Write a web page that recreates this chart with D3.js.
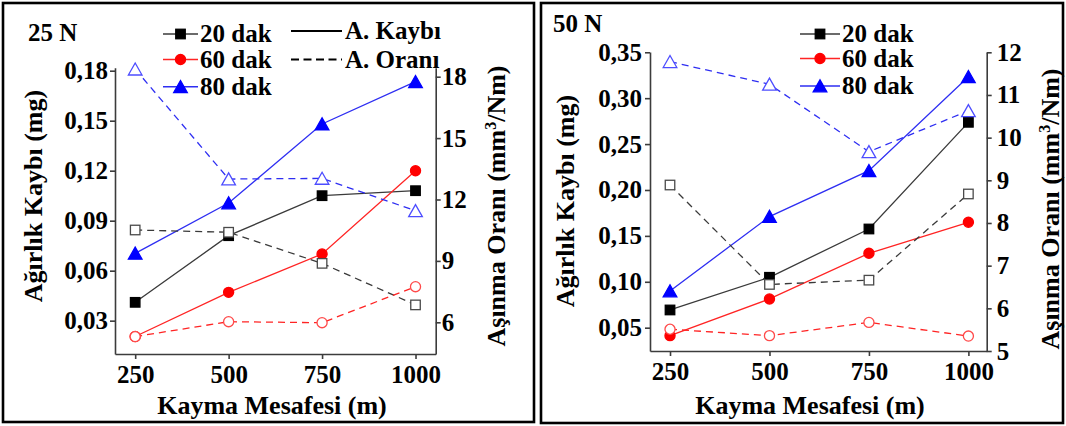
<!DOCTYPE html>
<html><head><meta charset="utf-8">
<script src="https://cdn.jsdelivr.net/npm/d3@7"></script>
<style>
body{margin:0;background:#fff}
svg{display:block}
</style>
</head><body>
<svg id="c" width="1066" height="426"></svg>
<script>
// ---------- data ----------
const distances = [250, 500, 750, 1000];
const seriesNames = ["20 dak", "60 dak", "80 dak"];
const typeNames = ["A. Kaybı", "A. Oranı"];

// 25 N : weight loss (mg) and wear rate (mm3/Nm)
const loss25_20 = [0.041, 0.081, 0.105, 0.108];
const loss25_60 = [0.0205, 0.047, 0.070, 0.120];
const loss25_80 = [0.0704, 0.1006, 0.148, 0.1734];
const rate25_20 = [10.51, 10.40, 8.88, 6.85];
const rate25_60 = [5.30, 6.03, 5.98, 7.74];
const rate25_80 = [18.37, 13.0, 13.03, 11.45];

// 50 N
const loss50_20 = [0.0693, 0.1049, 0.1575, 0.2737];
const loss50_60 = [0.0413, 0.0813, 0.131, 0.1648];
const loss50_80 = [0.090, 0.171, 0.221, 0.3234];
const rate50_20 = [8.89, 6.56, 6.66, 8.68];
const rate50_60 = [5.51, 5.36, 5.67, 5.35];
const rate50_80 = [11.78, 11.25, 9.67, 10.63];

// tick values
const lossTicks25 = [0.03, 0.06, 0.09, 0.12, 0.15, 0.18];
const rateTicks25 = [6, 9, 12, 15, 18];
const lossTicks50 = [0.05, 0.10, 0.15, 0.20, 0.25, 0.30, 0.35];
const rateTicks50 = [5, 6, 7, 8, 9, 10, 11, 12];

// ---------- styles ----------
const seriesStyle = [
  {marker: "square",   fill: "#000000", line: "#3a3a3a", open: "#4a4a4a"},
  {marker: "circle",   fill: "#ff0000", line: "#ff2424", open: "#ff4a4a"},
  {marker: "triangle", fill: "#0000ff", line: "#2e2ef2", open: "#4d4dff"}
];
const FONT = 25;
const FAMILY = "Liberation Serif";

const svg = d3.select("#c");

function txt(sel, size) {
  return sel.style("font-family", FAMILY).style("font-weight", "bold")
    .style("font-size", size + "px").attr("fill", "#000");
}

function markerPath(s) {
  const w = s * 0.62, h = s * 0.56;
  return `M0,${-h}L${w},${h * 0.95}L${-w},${h * 0.95}Z`;
}

function drawMarker(g, type, cx, cy, fill, stroke, size) {
  if (type === "square") {
    g.append("rect").attr("x", cx - size / 2).attr("y", cy - size / 2)
      .attr("width", size).attr("height", size)
      .attr("fill", fill).attr("stroke", stroke).attr("stroke-width", 1.3);
  } else if (type === "circle") {
    g.append("circle").attr("cx", cx).attr("cy", cy).attr("r", size / 2 + 0.3)
      .attr("fill", fill).attr("stroke", stroke).attr("stroke-width", 1.3);
  } else {
    g.append("path").attr("transform", `translate(${cx},${cy})`)
      .attr("d", markerPath(size + 1.5))
      .attr("fill", fill).attr("stroke", stroke).attr("stroke-width", 1.3);
  }
}

function styleAxis(a) {
  a.attr("font-family", null).attr("font-size", null);
  a.select(".domain").attr("stroke", "#3c3c3c").attr("stroke-width", 1.6);
  a.selectAll(".tick line").attr("stroke", "#3c3c3c").attr("stroke-width", 1.6);
  txt(a.selectAll(".tick text"), FONT);
}

function panel(cfg) {
  const g = svg.append("g");
  g.append("rect").attr("x", cfg.frame[0]).attr("y", cfg.frame[1])
    .attr("width", cfg.frame[2]).attr("height", cfg.frame[3])
    .attr("fill", "none").attr("stroke", "#000").attr("stroke-width", 2.6);

  const x = d3.scaleLinear().domain(cfg.xDomain).range(cfg.xRange);
  const yL = d3.scaleLinear().domain(cfg.lossDomain).range(cfg.yRange);
  const yR = d3.scaleLinear().domain(cfg.rateDomain).range(cfg.yRangeR);

  const fmtLoss = d => d3.format(".2f")(d).replace(".", ",");

  const ax = g.append("g").attr("transform", `translate(0,${cfg.yRange[0]})`)
    .call(d3.axisBottom(x).tickValues(distances).tickFormat(d3.format("d"))
      .tickSize(5).tickSizeOuter(0).tickPadding(6));
  styleAxis(ax);
  const al = g.append("g").attr("transform", `translate(${cfg.xRange[0]},0)`)
    .call(d3.axisLeft(yL).tickValues(cfg.lossTicks).tickFormat(fmtLoss)
      .tickSize(5).tickSizeOuter(0).tickPadding(cfg.padL));
  styleAxis(al);
  const ar = g.append("g").attr("transform", `translate(${cfg.xRange[1]},0)`)
    .call(d3.axisRight(yR).tickValues(cfg.rateTicks).tickFormat(d3.format("d"))
      .tickSize(5).tickSizeOuter(0).tickPadding(cfg.padR));
  styleAxis(ar);

  const lineL = d3.line().x((d, i) => x(distances[i])).y(d => yL(d));
  const lineR = d3.line().x((d, i) => x(distances[i])).y(d => yR(d));

  cfg.loss.forEach((vals, k) => {
    const st = seriesStyle[k];
    g.append("path").attr("d", lineL(vals)).attr("fill", "none")
      .attr("stroke", st.line).attr("stroke-width", 1.3);
  });
  cfg.loss.forEach((vals, k) => {
    const st = seriesStyle[k];
    vals.forEach((v, i) => drawMarker(g, st.marker, x(distances[i]), yL(v), st.fill, st.fill, 9.5));
  });
  cfg.rate.forEach((vals, k) => {
    const st = seriesStyle[k];
    g.append("path").attr("d", lineR(vals)).attr("fill", "none")
      .attr("stroke", st.line).attr("stroke-width", 1.3).attr("stroke-dasharray", "7,5");
  });
  cfg.rate.forEach((vals, k) => {
    const st = seriesStyle[k];
    vals.forEach((v, i) => drawMarker(g, st.marker, x(distances[i]), yR(v), "#fff", st.open, 9.5));
  });

  txt(g.append("text").attr("x", cfg.label[0]).attr("y", cfg.label[1]), FONT).text(cfg.labelText);
  txt(g.append("text").attr("x", cfg.xTitle[0]).attr("y", cfg.xTitle[1])
    .attr("text-anchor", "middle"), 26).text("Kayma Mesafesi (m)");
  txt(g.append("text").attr("transform", `translate(${cfg.yTitleL[0]},${cfg.yTitleL[1]}) rotate(-90)`)
    .attr("text-anchor", "middle"), 26).text("Ağırlık Kaybı (mg)");
  const tr = txt(g.append("text").attr("transform", `translate(${cfg.yTitleR[0]},${cfg.yTitleR[1]}) rotate(-90)`)
    .attr("text-anchor", "middle"), 26);
  tr.append("tspan").text("Aşınma Oranı (mm");
  tr.append("tspan").attr("dy", -9).style("font-size", "16px").text("3");
  tr.append("tspan").attr("dy", 9).text("/Nm)");

  seriesNames.forEach((name, k) => {
    const st = seriesStyle[k];
    const ly = cfg.legY[k];
    g.append("line").attr("x1", cfg.legX[0]).attr("x2", cfg.legX[1]).attr("y1", ly).attr("y2", ly)
      .attr("stroke", st.line).attr("stroke-width", 1.5);
    drawMarker(g, st.marker, (cfg.legX[0] + cfg.legX[1]) / 2, ly, st.fill, st.fill, 9.5);
    txt(g.append("text").attr("x", cfg.legX[1] + 2).attr("y", ly + 8), FONT).text(name);
  });
  if (cfg.typeLegend) {
    typeNames.forEach((name, k) => {
      const ly = cfg.typeY[k];
      g.append("line").attr("x1", cfg.typeX[0]).attr("x2", cfg.typeX[1]).attr("y1", ly).attr("y2", ly)
        .attr("stroke", "#000").attr("stroke-width", 1.8)
        .attr("stroke-dasharray", k === 1 ? "8,4.5" : null);
      txt(g.append("text").attr("x", cfg.typeX[1] + 3).attr("y", ly + 8), FONT).text(name);
    });
  }
}

panel({
  frame: [3, 3, 531, 419],
  xDomain: [196, 1054], xRange: [115, 435.7],
  lossDomain: [0.0100, 0.1818], yRange: [354, 67.7],
  rateDomain: [4.451, 18.44], yRangeR: [354, 67.7],
  lossTicks: lossTicks25, rateTicks: rateTicks25,
  padL: 2, padR: 1,
  loss: [loss25_20, loss25_60, loss25_80],
  rate: [rate25_20, rate25_60, rate25_80],
  label: [28, 41], labelText: "25 N",
  xTitle: [272, 414], yTitleL: [42, 196], yTitleR: [505, 206],
  legX: [163, 198], legY: [34, 59.5, 86.7],
  typeLegend: true, typeX: [291, 342], typeY: [31, 59.5]
});

panel({
  frame: [541, 3, 522, 420],
  xDomain: [199.7, 1046], xRange: [650, 986.7],
  lossDomain: [0.0246, 0.3503], yRange: [351, 52],
  rateDomain: [5, 12], yRangeR: [351, 52.3],
  lossTicks: lossTicks50, rateTicks: rateTicks50,
  padL: 3, padR: 5,
  loss: [loss50_20, loss50_60, loss50_80],
  rate: [rate50_20, rate50_60, rate50_80],
  label: [553, 32], labelText: "50 N",
  xTitle: [810, 414], yTitleL: [574, 201], yTitleR: [1059, 209],
  legX: [800, 840], legY: [34, 58.5, 86],
  typeLegend: false
});
</script>
</body></html>
